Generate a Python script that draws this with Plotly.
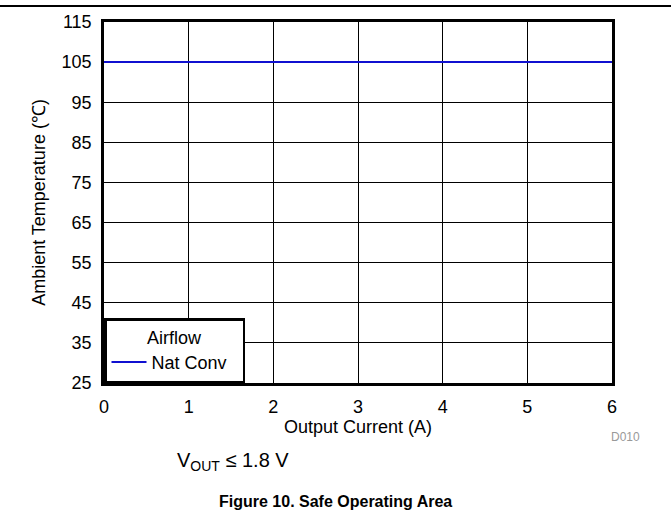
import plotly.graph_objects as go

current_a = [0, 6]
temp_c = [105, 105]
series_name = "Nat Conv"
x_ticks = [0, 1, 2, 3, 4, 5, 6]
y_ticks = [25, 35, 45, 55, 65, 75, 85, 95, 105, 115]

W, H = 671, 519
L, R, T, B = 104, 59, 22, 136
pw = W - L - R
ph = H - T - B

def px_x(x):
    return (x - L) / pw

def px_y(y):
    return (H - B - y) / ph

FONT = "Liberation Sans, Arial, sans-serif"
FS = 18

fig = go.Figure()
fig.add_trace(go.Scatter(x=current_a, y=temp_c, mode="lines", name=series_name + "\u00a0\u00a0",
                         line=dict(color="#1010D0", width=2)))

axis_common = dict(showline=True, linecolor="black", linewidth=2.5, mirror=True,
                   showgrid=True, gridcolor="black", gridwidth=1, zeroline=False,
                   ticks="", automargin=False,
                   tickfont=dict(size=FS, color="black", family=FONT))

fig.update_xaxes(range=[0, 6], tickvals=x_ticks, ticklabelstandoff=6, **axis_common,
                 title=dict(text="Output Current (A)", font=dict(size=FS, color="black", family=FONT), standoff=0))
fig.update_yaxes(range=[25, 115], tickvals=y_ticks, ticklabelstandoff=6, **axis_common,
                 title=dict(text="Ambient Temperature (℃)", font=dict(size=FS, color="black", family=FONT), standoff=12))

fig.update_layout(
    width=W, height=H,
    margin=dict(l=L, r=R, t=T, b=B),
    paper_bgcolor="white", plot_bgcolor="white",
    font=dict(family=FONT, color="black"),
    showlegend=True,
    legend=dict(x=0, y=0, xanchor="left", yanchor="bottom",
                bordercolor="black", borderwidth=2.5, bgcolor="white",
                title=dict(text="Airflow", side="top center", font=dict(size=FS, color="black", family=FONT)),
                font=dict(size=FS, color="black", family=FONT),
                itemwidth=35, tracegroupgap=0),
    shapes=[dict(type="line", xref="paper", yref="paper",
                 x0=px_x(0), x1=px_x(W), y0=px_y(6), y1=px_y(6),
                 line=dict(color="black", width=2))],
    annotations=[
        dict(text="D010", xref="paper", yref="paper", x=px_x(625), y=px_y(437),
             xanchor="center", yanchor="middle",
             showarrow=False, font=dict(size=12, color="#999999", family=FONT)),
        dict(text="V<sub>OUT</sub> ≤ 1.8 V", xref="paper", yref="paper", x=px_x(175), y=px_y(461),
             xanchor="left", yanchor="middle", showarrow=False, font=dict(size=20, color="black", family=FONT)),
        dict(text="<b>Figure 10. Safe Operating Area</b>", xref="paper", yref="paper",
             x=px_x(335), y=px_y(501), xanchor="center", yanchor="middle", showarrow=False,
             font=dict(size=16, color="black", family=FONT)),
    ],
)

fig.write_html("out.html", config={"displayModeBar": False},
               post_script="document.body.style.margin='0';document.body.style.overflow='hidden';")
